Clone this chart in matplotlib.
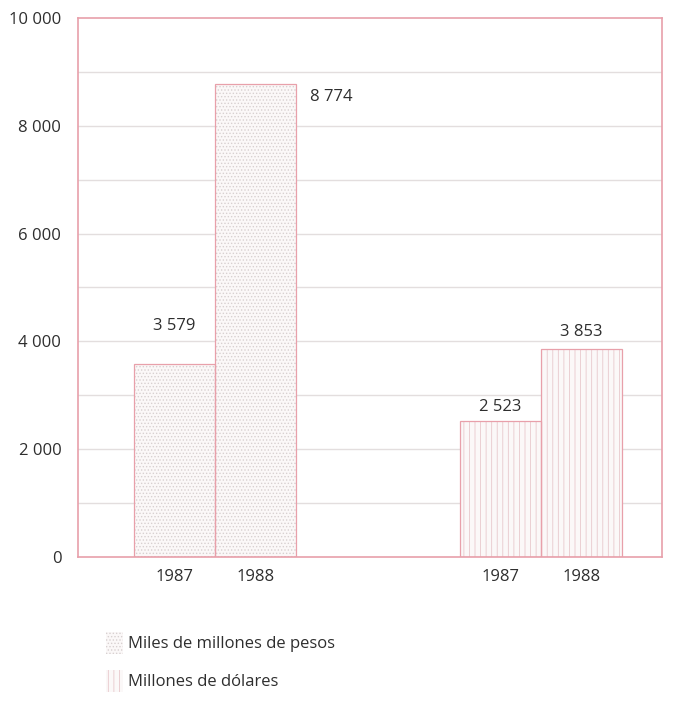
import matplotlib.pyplot as plt
import matplotlib as mpl
from matplotlib.patches import Patch

plt.rcParams['font.family'] = ['Open Sans', 'DejaVu Sans']
plt.rcParams['hatch.linewidth'] = 0.6

years = ['1987', '1988']
series = ['Miles de millones de pesos', 'Millones de dólares']
pesos = [3579, 8774]
dolares = [2523, 3853]
value_labels = ['3 579', '8 774', '2 523', '3 853']
yticks = [0, 2000, 4000, 6000, 8000, 10000]
ytick_labels = ['0', '2 000', '4 000', '6 000', '8 000', '10 000']

pink = '#e8a0aa'
text_col = '#2e2e2e'
hatches = ['.....', '|||']
hatch_cols = ['#d8d0d0', '#e8c8cc']
fs = 12

fig = plt.figure(figsize=(6.75, 7.03), dpi=100)
ax = fig.add_axes([0.1156, 0.2077, 0.865, 0.7667])

w = 0.248
groups = [pesos, dolares]
bars = []
for g, vals in enumerate(groups):
    xs = [g - w / 2, g + w / 2]
    ax.bar(xs, vals, width=w, color='#fbf8f8', edgecolor=hatch_cols[g],
           hatch=hatches[g], linewidth=0.0, zorder=2)
    ax.bar(xs, vals, width=w, fill=False, edgecolor=pink, linewidth=0.9, zorder=3)
    bars.append((xs, vals))

# value labels
offsets = [(0, 22), (55, -15), (0, 4), (0, 7)]
k = 0
for xs, vals in bars:
    for x, v in zip(xs, vals):
        dx, dy = offsets[k]
        ax.annotate(value_labels[k], (x, v), xytext=(dx, dy), textcoords='offset points',
                    ha='center', va='bottom', fontsize=fs, color=text_col)
        k += 1

ax.set_xlim(-0.42, 1.371)
ax.set_ylim(0, 10000)
ax.set_yticks(yticks)
ax.set_yticklabels(ytick_labels, fontsize=fs, color=text_col)
ax.tick_params(axis='y', length=0, pad=12)

xt = [g + s * w / 2 for g in range(2) for s in (-1, 1)]
ax.set_xticks(xt)
ax.set_xticklabels(years * 2, fontsize=fs, color=text_col)
ax.tick_params(axis='x', length=0, pad=9)

for yy in range(1000, 10000, 1000):
    ax.axhline(yy, color='#e3dede', linewidth=1.0, zorder=1)

for s in ax.spines.values():
    s.set_color(pink)
    s.set_linewidth(1.2)

handles = [Patch(facecolor='#fbf8f8', edgecolor=hatch_cols[i], hatch=hatches[i], linewidth=0)
           for i in range(2)]
fig.legend(handles, series, loc='upper left', bbox_to_anchor=(0.135, 0.122),
           frameon=False, fontsize=fs, handlelength=1.0, handleheight=1.6,
           handletextpad=0.3, labelspacing=1.0, labelcolor=text_col)

fig.savefig('out.png', dpi=100)
